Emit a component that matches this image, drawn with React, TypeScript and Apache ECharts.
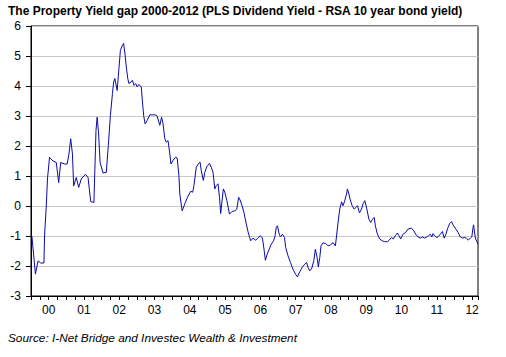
import React, { useEffect, useRef } from "react";
import * as echarts from "echarts";

// x position: months since January 2000
const months: number[] = [
  0.3, 1.5, 2.4, 3.3, 4.4, 4.6, 5.2, 5.6, 6.3, 7.5, 8.6, 9.4, 10.1, 11.4, 12.3, 12.9, 13.5, 14.1, 14.5, 15.4,
  16.2, 17.1, 18.5, 19.4, 20.3, 21.4, 22.1, 22.5, 23.0, 23.5, 24.5, 25.6, 26.3, 27.0, 27.7, 28.1, 28.5, 29.3,
  29.9, 30.4, 31.1, 31.5, 32.0, 32.4, 32.9, 33.3, 34.0, 34.5, 35.0, 35.6, 36.1, 36.7, 37.5, 37.9, 38.3, 38.8,
  39.5, 40.4, 41.3, 42.2, 42.9, 43.8, 44.4, 44.9, 45.5, 46.0, 46.6, 47.2, 47.6, 48.3, 49.2, 49.7, 50.3, 50.6,
  51.4, 52.3, 53.2, 54.3, 55.0, 55.4, 56.2, 57.0, 57.5, 57.9, 58.6, 59.1, 59.8, 60.7, 61.3, 61.9, 62.5, 63.0,
  63.6, 64.1, 64.5, 65.4, 65.9, 66.6, 67.5, 68.4, 69.3, 70.0, 70.6, 71.1, 71.8, 72.4, 73.2, 74.0, 74.7, 75.5,
  76.4, 77.1, 78.0, 78.7, 79.3, 79.7, 80.3, 81.0, 81.7, 82.5, 83.0, 83.4, 83.8, 84.4, 84.8, 85.5, 86.2, 86.6,
  87.4, 88.2, 89.1, 90.0, 90.6, 91.4, 92.3, 93.1, 93.7, 94.2, 94.8, 95.5, 96.2, 96.7, 97.3, 97.7, 98.2, 98.6,
  99.3, 100.2, 101.0, 101.8, 102.7, 103.5, 103.9, 104.4, 105.0, 105.6, 106.1, 106.7, 107.3, 107.6, 108.1, 108.5,
  109.2, 109.9, 110.5, 111.0, 111.7, 112.4, 112.9, 113.5, 114.2, 114.9, 115.5, 116.1, 116.7, 117.1, 117.8, 118.6,
  119.4, 120.3, 121.2, 121.9, 122.6, 123.2, 123.9, 124.6, 125.1, 125.7, 126.4, 127.4, 128.2, 129.4, 130.2, 130.8,
  131.6, 132.4, 133.1, 133.8, 134.5, 135.1, 135.8, 136.3, 136.7, 137.3, 137.9, 138.4, 139.2, 139.9, 140.5, 141.1,
  141.7, 142.4, 143.0, 143.5, 144.5, 145.2, 146.0, 146.7, 147.4, 148.1, 148.7, 149.4, 149.9, 150.3, 150.5, 151.0,
  151.2, 151.6, 151.9,
];

// yield gap (%)
const gap: number[] = [
  -1.0, -2.27, -1.83, -1.9, -1.9, -1.0, 0.0, 0.9, 1.62, 1.5, 1.45, 0.78, 1.45, 1.4, 1.4, 1.73, 2.24, 1.73, 0.67, 0.95,
  0.62, 0.9, 1.06, 0.95, 0.15, 0.12, 2.52, 2.96, 2.4, 1.45, 1.1, 1.12, 2.02, 3.02, 3.75, 4.13, 4.25, 3.85,
  4.58, 5.19, 5.36, 5.42, 5.03, 4.64, 4.25, 4.08, 4.13, 4.19, 4.02, 4.08, 3.97, 4.05, 3.97, 3.47, 3.02, 2.74,
  2.85, 3.04, 3.04, 3.04, 3.0, 2.69, 2.96, 2.74, 2.24, 2.13, 2.18, 1.74, 1.4, 1.52, 1.63, 1.6, 1.01, 0.4,
  -0.16, 0.07, 0.29, 0.49, 0.46, 0.68, 1.29, 1.42, 1.46, 1.18, 0.85, 1.12, 1.31, 1.42, 1.29, 1.12, 0.57, 0.68,
  0.74, 0.29, -0.25, 0.57, 0.46, 0.18, -0.27, -0.18, -0.16, -0.1, 0.29, 0.2, 0.0, -0.21, -0.6, -0.94, -1.16, -1.07,
  -1.14, -1.07, -0.99, -1.07, -1.49, -1.81, -1.61, -1.44, -1.27, -1.16, -0.99, -0.71, -0.66, -0.94, -1.03, -0.94, -1.05, -1.38,
  -1.66, -1.88, -2.11, -2.28, -2.36, -2.19, -2.03, -1.94, -1.88, -2.05, -2.16, -2.07, -1.81, -1.44, -1.72, -2.03, -1.72, -1.33,
  -1.23, -1.25, -1.33, -1.3, -1.22, -1.33, -1.0, -0.55, -0.1, 0.14, 0.01, 0.18, 0.4, 0.57, 0.4, 0.23,
  0.01, -0.1, -0.05, 0.01, -0.23, -0.1, 0.07, 0.18, -0.1, -0.44, -0.55, -0.44, -0.38, -0.66, -0.94, -1.1,
  -1.16, -1.19, -1.19, -1.13, -1.05, -1.1, -0.99, -0.9, -0.99, -1.1, -0.95, -0.88, -0.77, -0.74, -0.83, -0.94,
  -1.03, -1.07, -1.03, -1.07, -1.03, -1.0, -0.94, -1.03, -0.92, -1.0, -1.05, -1.03, -0.94, -0.85, -1.07, -0.94,
  -0.74, -0.58, -0.52, -0.63, -0.77, -0.88, -1.03, -1.07, -1.05, -1.07, -1.14, -1.07, -1.03, -0.72, -0.63, -1.0,
  -1.1, -1.18, -1.27,
];

const yearLabels: string[] = ["00", "01", "02", "03", "04", "05", "06", "07", "08", "09", "10", "11", "12"];

const titleText = "The Property Yield gap 2000-2012 (PLS Dividend Yield - RSA 10 year bond yield)";
const sourceText = "Source: I-Net Bridge and Investec Wealth & Investment";

export default function App() {
  const ref = useRef<HTMLDivElement>(null);
  useEffect(() => {
    if (!ref.current) return;
    const chart = echarts.init(ref.current, null, { renderer: "svg" });
    const font = "'Liberation Sans', Arial, sans-serif";
    chart.setOption({
      animation: false,
      backgroundColor: "#ffffff",
      textStyle: { fontFamily: font },
      title: [
        {
          text: titleText,
          left: 8,
          top: 4,
          padding: 0,
          textStyle: { fontSize: 12, lineHeight: 14, fontWeight: "bold", color: "#000", fontFamily: font },
        },
        {
          text: sourceText,
          left: 8,
          top: 331,
          padding: 0,
          textStyle: { fontSize: 11.8, lineHeight: 14, fontStyle: "italic", fontWeight: "normal", color: "#000", fontFamily: font },
        },
      ],
      grid: {
        left: 31,
        right: 28,
        top: 26,
        bottom: 61,
        show: true,
        borderColor: "#000",
        borderWidth: 1,
        backgroundColor: "transparent",
      },
      xAxis: {
        type: "value",
        min: 0,
        max: 152,
        interval: 3,
        axisLine: { show: true, onZero: false, lineStyle: { color: "#000", width: 1 } },
        axisTick: { show: true, length: 4, lineStyle: { color: "#000" } },
        splitLine: { show: false },
        axisLabel: {
          color: "#000",
          fontSize: 12,
          fontFamily: font,
          margin: 8,
          showMinLabel: true,
          showMaxLabel: true,
          formatter: (v: number) => {
            const r = Math.round(v);
            if (r % 12 === 6) {
              const i = (r - 6) / 12;
              return yearLabels[i] ?? "";
            }
            return "";
          },
        },
      },
      yAxis: {
        type: "value",
        min: -3,
        max: 6,
        interval: 1,
        axisLine: { show: true, onZero: false, lineStyle: { color: "#000", width: 1 } },
        axisTick: { show: true, length: 5, lineStyle: { color: "#000" } },
        splitLine: { show: true, lineStyle: { color: "#c8c8c8", width: 1 } },
        axisLabel: { color: "#000", fontSize: 12, lineHeight: 12, fontFamily: font, margin: 10 },
      },
      series: [
        {
          type: "line",
          data: months.map((m, i) => [m, gap[i]]),
          showSymbol: false,
          symbol: "none",
          lineStyle: { color: "#0a0aa8", width: 1 },
          clip: true,
        },
      ],
    });
    return () => chart.dispose();
  }, []);
  return (
    <div
      ref={ref}
      style={{ position: "fixed", left: 0, top: 0, width: 506, height: 357, background: "#fff" }}
    />
  );
}
